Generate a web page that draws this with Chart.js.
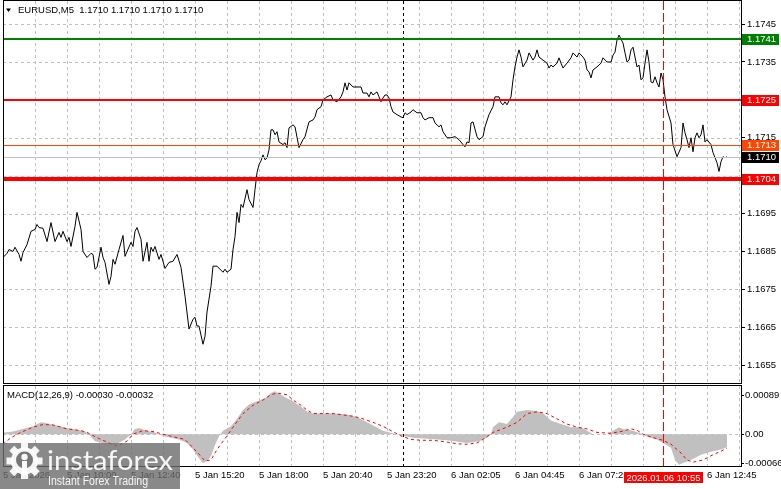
<!DOCTYPE html>
<html lang="en">
<head>
<meta charset="UTF-8">
<title>EURUSD M5</title>
<script src="https://cdn.jsdelivr.net/npm/chart.js"></script>
<style>
    html, body {
        margin: 0;
        padding: 0;
        background: #fff;
        overflow: hidden;
    }
    .wrap { position: relative; width: 781px; height: 489px; }
    #priceChart { position: absolute; left: 0; top: 0; }
    #macdChart { position: absolute; left: 0; top: 385px; }
</style>
</head>
<body>
<div class="wrap">
    <canvas id="priceChart" width="781" height="385"></canvas>
    <canvas id="macdChart" width="781" height="104"></canvas>
</div>
<script>
// bar index (M5 bars from the left edge) and close price
const priceIdx = [0,2,3,5,6,8,9,10,12,14,16,17,18,20,22,24,26,28,29,30,32,33,34,36,37,39,40,42,44,45,46,47,49,50,51,53,54,55,56,58,60,61,64,65,66,67,69,70,72,73,74,75,76,78,79,81,83,85,87,89,91,93,95,96,97,98,100,101,102,104,105,107,110,111,112,114,115,116,117,118,119,120,122,123,125,126,127,128,129,130,131,132,133,134,135,136,137,138,140,141,142,143,145,146,148,150,151,153,155,156,157,159,160,162,164,165,167,169,170,171,172,173,175,177,179,180,182,183,184,185,187,188,189,190,191,192,193,194,195,197,199,200,201,202,204,205,207,209,210,211,213,215,216,218,219,220,222,224,226,228,230,231,232,233,234,235,237,238,240,241,243,245,246,248,249,250,251,252,254,255,256,257,258,259,260,262,263,265,266,267,268,270,272,273,274,275,277,278,279,280,282,284,285,287,288,290,291,292,293,294,295,297,299,300,302,304,305,306,307,308,310,311,312,313,314,315,316,317,318,319,320,321,322,323,324,325,326,327,328,329,330,331,332,334,335,337,339,340,341,342,343,344,345,346,347,348,349,350,351,352,354,355,357,358,359,360,361,362];
const priceClose = [1.16834,1.16845,1.16855,1.16850,1.16861,1.16842,1.16824,1.16847,1.16868,1.16903,1.16908,1.16921,1.16913,1.16911,1.16876,1.16926,1.16876,1.16900,1.16887,1.16903,1.16876,1.16887,1.16863,1.16916,1.16953,1.16908,1.16850,1.16834,1.16845,1.16842,1.16803,1.16808,1.16861,1.16834,1.16821,1.16763,1.16784,1.16829,1.16816,1.16855,1.16892,1.16837,1.16874,1.16863,1.16903,1.16913,1.16882,1.16824,1.16874,1.16824,1.16861,1.16850,1.16863,1.16829,1.16842,1.16805,1.16821,1.16824,1.16842,1.16808,1.16732,1.16645,1.16671,1.16676,1.16653,1.16653,1.16605,1.16626,1.16690,1.16758,1.16811,1.16811,1.16795,1.16803,1.16795,1.16803,1.16855,1.16889,1.16953,1.16926,1.16974,1.16966,1.17013,1.16987,1.16966,1.17013,1.17058,1.17079,1.17089,1.17105,1.17092,1.17097,1.17118,1.17171,1.17171,1.17158,1.17166,1.17139,1.17132,1.17137,1.17124,1.17176,1.17184,1.17179,1.17124,1.17145,1.17153,1.17192,1.17197,1.17205,1.17224,1.17232,1.17250,1.17258,1.17263,1.17250,1.17245,1.17258,1.17271,1.17295,1.17276,1.17295,1.17284,1.17284,1.17284,1.17268,1.17268,1.17258,1.17271,1.17263,1.17271,1.17258,1.17245,1.17255,1.17263,1.17263,1.17255,1.17232,1.17218,1.17211,1.17205,1.17203,1.17216,1.17211,1.17218,1.17224,1.17216,1.17216,1.17203,1.17197,1.17203,1.17203,1.17189,1.17179,1.17184,1.17166,1.17150,1.17150,1.17153,1.17145,1.17132,1.17126,1.17139,1.17137,1.17189,1.17192,1.17153,1.17145,1.17153,1.17179,1.17211,1.17232,1.17258,1.17258,1.17242,1.17237,1.17245,1.17237,1.17258,1.17303,1.17337,1.17363,1.17382,1.17363,1.17337,1.17355,1.17374,1.17355,1.17363,1.17382,1.17363,1.17355,1.17347,1.17334,1.17342,1.17337,1.17347,1.17361,1.17347,1.17334,1.17347,1.17361,1.17374,1.17363,1.17374,1.17363,1.17355,1.17329,1.17324,1.17308,1.17329,1.17337,1.17347,1.17361,1.17350,1.17350,1.17368,1.17376,1.17408,1.17421,1.17400,1.17374,1.17350,1.17355,1.17382,1.17389,1.17363,1.17337,1.17342,1.17303,1.17308,1.17347,1.17382,1.17350,1.17297,1.17295,1.17311,1.17295,1.17284,1.17321,1.17303,1.17258,1.17224,1.17189,1.17132,1.17100,1.17124,1.17189,1.17163,1.17145,1.17124,1.17150,1.17113,1.17150,1.17163,1.17150,1.17158,1.17184,1.17139,1.17145,1.17132,1.17111,1.17084,1.17061,1.17087,1.17100,1.17097,1.17100];

// MACD(12,26,9) histogram and signal
const macdIdx = [0,5,10,15,19,22,27,32,37,41,43,46,50,54,57,61,64,66,68,72,76,80,84,88,92,95,98,100,102,104,106,108,110,114,117,120,123,127,131,134,136,139,142,145,149,152,155,160,166,172,177,182,187,190,198,205,222,232,238,242,244,245,248,252,255,257,262,267,270,274,279,284,289,292,295,302,305,308,310,315,320,322,327,330,334,336,338,340,344,349,354,359,362];
const macdHist = [0.00003,0.00006,0.00012,0.00018,0.00027,0.00025,0.00020,0.00014,0.00010,0.00006,0,-0.00016,-0.00020,-0.00023,-0.00022,-0.00012,0,0.00012,0.00014,0.00008,0.00004,-0.00004,-0.00008,-0.00012,-0.00020,-0.00035,-0.00055,-0.00066,-0.00062,-0.00050,-0.00025,-0.00005,0.00008,0.00018,0.00035,0.00055,0.00068,0.00075,0.00082,0.00094,0.00098,0.00090,0.00082,0.00075,0.00063,0.00052,0.00047,0.00047,0.00047,0.00045,0.00039,0.00027,0.00015,0.00008,-0.00002,-0.00008,-0.00014,-0.00020,-0.00016,-0.00008,0,0.00016,0.00027,0.00023,0.00039,0.00051,0.00055,0.00053,0.00047,0.00031,0.00023,0.00016,0.00016,0.00008,0,0,0.00008,0.00016,0.00012,0.00008,0,-0.00006,-0.00012,-0.00020,-0.00031,-0.00059,-0.00070,-0.00066,-0.00059,-0.00047,-0.00040,-0.00035,-0.00030];
const signalIdx = [0,4,9,15,20,25,32,39,42,47,54,57,62,65,70,75,80,87,91,95,99,101,104,107,112,115,120,125,130,134,137,142,145,149,152,155,165,175,180,185,190,194,199,204,209,215,222,227,232,237,240,245,252,257,262,267,272,277,282,287,292,297,304,309,314,317,320,325,330,334,339,342,345,350,355,359,362];
const signalLine = [-0.00023,-0.00008,0.00004,0.00016,0.00022,0.00021,0.00012,0.00008,0.00004,-0.00008,-0.00022,-0.00027,-0.00016,0,0.00008,0.00006,0,-0.00008,-0.00012,-0.00031,-0.00051,-0.00061,-0.00059,-0.00035,-0.00004,0.00016,0.00047,0.00066,0.00078,0.00090,0.00094,0.00090,0.00078,0.00066,0.00055,0.00047,0.00047,0.00041,0.00035,0.00027,0.00018,0.00008,-0.00004,-0.00012,-0.00014,-0.00014,-0.00018,-0.00022,-0.00023,-0.00020,-0.00012,0.00004,0.00016,0.00027,0.00047,0.00051,0.00047,0.00035,0.00023,0.00016,0.00012,0.00004,0.00002,0.00006,0.00012,0.00009,0,-0.00008,-0.00014,-0.00023,-0.00043,-0.00059,-0.00064,-0.00059,-0.00047,-0.00039,-0.00032];

// axes
const gridIdx = [0,16,32,48,64,80,96,112,128,144,160,176,192,208,224,240,256,272,288,304,320,336,352,368];
const labelIdx = [0,32,64,96,128,160,192,224,256,288,320,352];
const timeLabels = ['5 Jan 2026','5 Jan 10:00','5 Jan 12:40','5 Jan 15:20','5 Jan 18:00','5 Jan 20:40','5 Jan 23:20','6 Jan 02:05','6 Jan 04:45','6 Jan 07:25','6 Jan 10:05','6 Jan 12:45'];
const priceTicks = [1.1745,1.1735,1.1725,1.1715,1.1705,1.1695,1.1685,1.1675,1.1665,1.1655];
const macdTicks = [0.00089,0,-0.00066];

// horizontal levels and markers
const levelValues = [1.1741,1.1725,1.1713,1.1710,1.1704];
const daySeparatorIdx = 200;
const cursorIdx = 330;
const cursorLabel = '2026.01.06 10:55';
const headerText = 'EURUSD,M5  1.1710 1.1710 1.1710 1.1710';
const macdText = 'MACD(12,26,9) -0.00030 -0.00032';

const levelStyle = [
    { line: '#008000', width: 2, box: '#008000' },
    { line: '#ff0000', width: 2, box: '#ff0000' },
    { line: '#ff4500', width: 1, box: '#ff4500' },
    { line: '#c0c0c0', width: 1, box: '#000000' },
    { line: '#ff0000', width: 4, box: '#ff0000' }
];

const FONT = '"Liberation Sans", Arial, sans-serif';
const GRID = '#c0c0c0';

function toPoints(xs, ys) {
    return xs.map((x, i) => ({ x: x, y: ys[i] }));
}

function vline(ctx, px, top, bottom, color, dash) {
    ctx.save();
    ctx.strokeStyle = color;
    ctx.lineWidth = 1;
    ctx.setLineDash(dash);
    ctx.beginPath();
    ctx.moveTo(Math.round(px) + 0.5, top);
    ctx.lineTo(Math.round(px) + 0.5, bottom);
    ctx.stroke();
    ctx.restore();
}

function hline(ctx, py, left, right, color, dash) {
    ctx.save();
    ctx.strokeStyle = color;
    ctx.lineWidth = 1;
    ctx.setLineDash(dash);
    ctx.beginPath();
    ctx.moveTo(left, Math.round(py) + 0.5);
    ctx.lineTo(right, Math.round(py) + 0.5);
    ctx.stroke();
    ctx.restore();
}

// dashed grid drawn from the scales' own ticks
function drawGrid(chart, yValues) {
    const { ctx, chartArea: a, scales: { x, y } } = chart;
    x.ticks.forEach(t => vline(ctx, x.getPixelForValue(t.value), a.top, a.bottom, GRID, [3, 3]));
    yValues.forEach(v => hline(ctx, y.getPixelForValue(v), a.left, a.right, GRID, [3, 3]));
}

function frame(ctx, a) {
    ctx.save();
    ctx.strokeStyle = '#000';
    ctx.lineWidth = 1;
    ctx.strokeRect(a.left + 0.5, a.top - 0.5, a.right - a.left, a.bottom - a.top);
    ctx.restore();
}

function noPad(s) {
    s.paddingTop = 0;
    s.paddingBottom = 0;
    s.paddingLeft = 0;
    s.paddingRight = 0;
}

function xAxis(showLabels) {
    return {
        type: 'linear',
        min: 0,
        max: 369,
        afterBuildTicks: s => { s.ticks = gridIdx.map(v => ({ value: v })); },
        afterFit: s => {
            s.height = showLabels ? 22 : 0;
            noPad(s);
        },
        grid: { drawOnChartArea: false, drawTicks: false },
        border: { display: false },
        ticks: {
            display: showLabels,
            autoSkip: false,
            maxRotation: 0,
            align: 'start',
            padding: 3,
            color: '#000',
            font: { family: FONT, size: 9.5 },
            callback: v => {
                const k = labelIdx.indexOf(v);
                return k >= 0 ? timeLabels[k] : '';
            }
        }
    };
}

// price tick labels that sit under one of the level boxes on the axis
function coveredByLevel(v) {
    return levelValues.some(l => Math.abs(l - v) < 0.00015);
}

const priceDecor = {
    id: 'priceDecor',
    beforeDatasetsDraw(chart) {
        drawGrid(chart, priceTicks);
    },
    afterDatasetsDraw(chart) {
        const { ctx, chartArea: a, scales: { x, y } } = chart;
        vline(ctx, x.getPixelForValue(daySeparatorIdx), a.top, a.bottom, '#000', [3, 3]);
        vline(ctx, x.getPixelForValue(cursorIdx), a.top, a.bottom, '#ff0000', [9, 3]);
        ctx.save();
        levelValues.forEach((v, i) => {
            const st = levelStyle[i];
            const py = Math.round(y.getPixelForValue(v)) + (st.width % 2 ? 0.5 : 0);
            ctx.strokeStyle = st.line;
            ctx.lineWidth = st.width;
            ctx.beginPath();
            ctx.moveTo(a.left, py);
            ctx.lineTo(a.right, py);
            ctx.stroke();
        });
        ctx.restore();
    },
    afterDraw(chart) {
        const { ctx, chartArea: a, scales: { y } } = chart;
        frame(ctx, a);
        ctx.save();
        ctx.font = '9.5px ' + FONT;
        ctx.textBaseline = 'middle';
        levelValues.forEach((v, i) => {
            const py = Math.round(y.getPixelForValue(v));
            ctx.fillStyle = levelStyle[i].box;
            ctx.fillRect(a.right + 1, py - 5, 37, 11);
            ctx.fillStyle = '#fff';
            ctx.fillText(v.toFixed(4), a.right + 6, py + 0.5);
        });
        // symbol header
        ctx.fillStyle = '#000';
        ctx.beginPath();
        ctx.moveTo(6, 8.5);
        ctx.lineTo(11, 8.5);
        ctx.lineTo(8.5, 12);
        ctx.closePath();
        ctx.fill();
        ctx.fillText(headerText, 18, 10.5);
        ctx.restore();
    }
};

function drawWatermark(ctx, top, bottom) {
    ctx.save();
    ctx.fillStyle = 'rgba(108,108,108,0.8)';
    ctx.fillRect(0, top, 180, bottom - top);
    // gear logo
    ctx.save();
    ctx.translate(24.5, top + 18);
    ctx.fillStyle = 'rgba(255,255,255,0.92)';
    for (let k = 0; k < 8; k++) {
        ctx.rotate(Math.PI / 4);
        ctx.fillRect(-3.5, -18, 7, 7);
    }
    ctx.beginPath();
    ctx.arc(0, 0, 13.5, 0, Math.PI * 2);
    ctx.fill();
    ctx.fillStyle = '#777';
    ctx.beginPath();
    ctx.arc(0, -1, 8.5, 0, Math.PI * 2);
    ctx.fill();
    ctx.fillStyle = 'rgba(255,255,255,0.95)';
    ctx.beginPath();
    ctx.arc(0, -4, 3.2, 0, Math.PI * 2);
    ctx.fill();
    ctx.fillRect(-2.5, 0, 5, 14);
    ctx.restore();
    // brand text
    ctx.fillStyle = 'rgba(255,255,255,0.92)';
    ctx.textBaseline = 'alphabetic';
    ctx.font = '400 26px Lato, sans-serif';
    let w = ctx.measureText('instaforex').width;
    ctx.save();
    ctx.translate(47, top + 27);
    ctx.scale(126 / w, 1);
    ctx.fillText('instaforex', 0, 0);
    ctx.restore();
    ctx.font = '12px ' + FONT;
    w = ctx.measureText('Instant Forex Trading').width;
    ctx.save();
    ctx.translate(48, top + 42);
    ctx.scale(100 / w, 1);
    ctx.fillText('Instant Forex Trading', 0, 0);
    ctx.restore();
    ctx.restore();
}

const macdDecor = {
    id: 'macdDecor',
    beforeDatasetsDraw(chart) {
        drawGrid(chart, [0]);
    },
    afterDatasetsDraw(chart) {
        const { ctx, chartArea: a, scales: { x } } = chart;
        vline(ctx, x.getPixelForValue(daySeparatorIdx), a.top, a.bottom, '#000', [3, 3]);
        vline(ctx, x.getPixelForValue(cursorIdx), a.top, a.bottom, '#ff0000', [9, 3]);
    },
    afterDraw(chart) {
        const { ctx, chartArea: a, scales: { x } } = chart;
        frame(ctx, a);
        ctx.save();
        ctx.font = '9.5px ' + FONT;
        ctx.textBaseline = 'middle';
        ctx.fillStyle = '#000';
        ctx.fillText(macdText, 7, 10.5);
        // time cursor box on the axis
        const cx = x.getPixelForValue(cursorIdx);
        ctx.fillStyle = '#ff0000';
        ctx.fillRect(cx - 39, 87, 79, 11);
        ctx.fillStyle = '#fff';
        ctx.textAlign = 'center';
        ctx.fillText(cursorLabel, cx + 0.5, 93);
        ctx.restore();
        drawWatermark(ctx, 58, chart.height);
    }
};

new Chart(document.getElementById('priceChart'), {
    type: 'line',
    data: {
        datasets: [{
            data: toPoints(priceIdx, priceClose),
            borderColor: '#000',
            borderWidth: 1,
            pointRadius: 0,
            tension: 0,
            fill: false
        }]
    },
    options: {
        responsive: false,
        animation: false,
        devicePixelRatio: 1,
        layout: { padding: { left: 3, top: 1, right: 0, bottom: 1 } },
        plugins: { legend: { display: false }, tooltip: { enabled: false } },
        scales: {
            x: xAxis(false),
            y: {
                position: 'right',
                min: 1.16500,
                max: 1.17511,
                afterBuildTicks: s => { s.ticks = priceTicks.map(v => ({ value: v })); },
                afterFit: s => { s.width = 40; noPad(s); },
                grid: { drawOnChartArea: false, tickColor: '#000', tickLength: 4 },
                border: { display: false },
                ticks: {
                    padding: 2,
                    color: '#000',
                    font: { family: FONT, size: 9.5 },
                    callback: v => (coveredByLevel(v) ? '' : v.toFixed(4))
                }
            }
        }
    },
    plugins: [priceDecor]
});

new Chart(document.getElementById('macdChart'), {
    type: 'line',
    data: {
        datasets: [
            {
                data: toPoints(macdIdx, macdHist),
                borderColor: 'rgba(0,0,0,0)',
                borderWidth: 0,
                backgroundColor: '#c0c0c0',
                fill: 'origin',
                pointRadius: 0,
                tension: 0,
                order: 2
            },
            {
                data: toPoints(signalIdx, signalLine),
                borderColor: '#ff0000',
                borderWidth: 1,
                borderDash: [3, 3],
                pointRadius: 0,
                tension: 0,
                fill: false,
                order: 1
            }
        ]
    },
    options: {
        responsive: false,
        animation: false,
        devicePixelRatio: 1,
        layout: { padding: { left: 3, top: 1, right: 0, bottom: 0 } },
        plugins: { legend: { display: false }, tooltip: { enabled: false } },
        scales: {
            x: xAxis(true),
            y: {
                position: 'right',
                min: -0.00075,
                max: 0.0011,
                afterBuildTicks: s => { s.ticks = macdTicks.map(v => ({ value: v })); },
                afterFit: s => { s.width = 40; noPad(s); },
                grid: { drawOnChartArea: false, tickColor: '#000', tickLength: 3 },
                border: { display: false },
                ticks: {
                    padding: 1,
                    color: '#000',
                    font: { family: FONT, size: 9.5 },
                    callback: v => (v === 0 ? '0.00' : v.toFixed(5))
                }
            }
        }
    },
    plugins: [macdDecor]
});
</script>
</body>
</html>
